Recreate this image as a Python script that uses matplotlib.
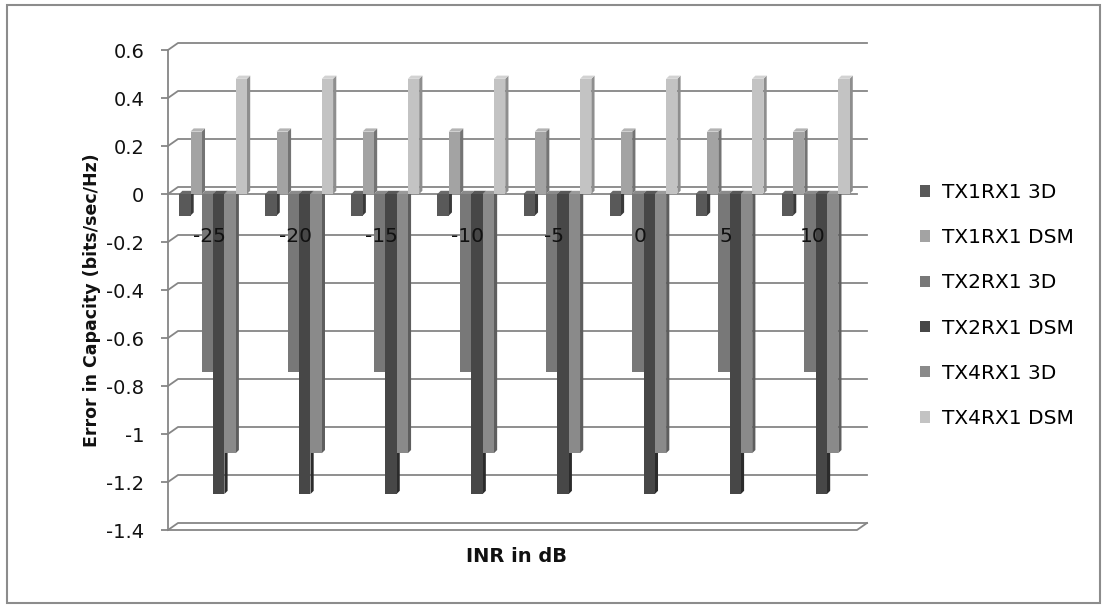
import matplotlib
matplotlib.use("Agg")
import matplotlib.pyplot as plt
from matplotlib.patches import Polygon, Rectangle, Patch
from matplotlib.lines import Line2D
import numpy as np

# ---- data ----
categories = ["-25", "-20", "-15", "-10", "-5", "0", "5", "10"]
series_names = ["TX1RX1 3D", "TX1RX1 DSM", "TX2RX1 3D", "TX2RX1 DSM", "TX4RX1 3D", "TX4RX1 DSM"]
tx1rx1_3d = [-0.09, -0.09, -0.09, -0.09, -0.09, -0.09, -0.09, -0.09]
tx1rx1_dsm = [0.26, 0.26, 0.26, 0.26, 0.26, 0.26, 0.26, 0.26]
tx2rx1_3d = [-0.74, -0.74, -0.74, -0.74, -0.74, -0.74, -0.74, -0.74]
tx2rx1_dsm = [-1.25, -1.25, -1.25, -1.25, -1.25, -1.25, -1.25, -1.25]
tx4rx1_3d = [-1.08, -1.08, -1.08, -1.08, -1.08, -1.08, -1.08, -1.08]
tx4rx1_dsm = [0.48, 0.48, 0.48, 0.48, 0.48, 0.48, 0.48, 0.48]
series_values = [tx1rx1_3d, tx1rx1_dsm, tx2rx1_3d, tx2rx1_dsm, tx4rx1_3d, tx4rx1_dsm]
y_ticks = [-1.4, -1.2, -1.0, -0.8, -0.6, -0.4, -0.2, 0.0, 0.2, 0.4, 0.6]

front_colors = ["#595959", "#a3a3a3", "#787878", "#474747", "#8a8a8a", "#c3c3c3"]
side_colors = ["#3a3a3a", "#747474", "#555555", "#2b2b2b", "#5e5e5e", "#8e8e8e"]
top_colors = ["#6a6a6a", "#b4b4b4", "#8a8a8a", "#585858", "#9a9a9a", "#d2d2d2"]

W, H = 1102, 605
fig = plt.figure(figsize=(W / 100, H / 100), dpi=100)
fig.patch.set_facecolor("white")

# outer border
fig.add_artist(Rectangle((7 / W, 1 - 603 / H), (1100 - 7) / W, (603 - 5) / H,
                         transform=fig.transFigure, fill=False, edgecolor="#8c8c8c", lw=1.5))

ax_l, ax_r, ax_t, ax_b = 168, 857, 50, 530
ax = fig.add_axes([ax_l / W, 1 - ax_b / H, (ax_r - ax_l) / W, (ax_b - ax_t) / H])
ax.set_facecolor("none")

n = len(categories)
xmin, xmax = -0.534, n - 0.53
ymin, ymax = y_ticks[0], y_ticks[-1]
ax.set_xlim(xmin, xmax)
ax.set_ylim(ymin, ymax)

px_x = (ax_r - ax_l) / (xmax - xmin)
px_y = (ax_b - ax_t) / (ymax - ymin)

grid_c = "#868686"
# wall depth offsets
dxw, dyw = 10 / px_x, 7 / px_y
for v in y_ticks:
    ax.add_line(Line2D([xmin, xmin + dxw, xmax + dxw], [v, v + dyw, v + dyw],
                       color=grid_c, lw=1.3, zorder=1, clip_on=False))
# floor front + right side
ax.add_line(Line2D([xmin, xmax, xmax + dxw], [ymin, ymin, ymin + dyw],
                   color=grid_c, lw=1.3, zorder=1, clip_on=False))
# category axis (front, at zero)
ax.add_line(Line2D([xmin, xmax], [0, 0], color=grid_c, lw=1.3, zorder=1.5, clip_on=False))

# bars with 3D look
ns = len(series_values)
bw = 11.3 / px_x
dxb, dyb = 3.2 / px_x, 3.2 / px_y
x = np.arange(n)
for s, vals in enumerate(series_values):
    for j, v in enumerate(vals):
        x0 = x[j] - 3 * bw - 0.01 + s * bw
        x1 = x0 + bw
        z = 2 + s * 0.1
        side = Polygon([(x1, 0), (x1 + dxb, dyb), (x1 + dxb, v + dyb), (x1, v)],
                       closed=True, facecolor=side_colors[s], edgecolor="none", zorder=z)
        ax.add_patch(side)
        top_y = max(v, 0)
        top = Polygon([(x0, top_y), (x0 + dxb, top_y + dyb), (x1 + dxb, top_y + dyb), (x1, top_y)],
                      closed=True, facecolor=top_colors[s], edgecolor="none", zorder=z)
        ax.add_patch(top)
    ax.bar(x - 3 * bw - 0.01 + s * bw, vals, width=bw, align="edge",
           color=front_colors[s], edgecolor="none", zorder=2 + s * 0.1 + 0.05)

# category labels inside plot
for j, c in enumerate(categories):
    ax.text(x[j] - 0.05, -0.179, c, ha="center", va="center", fontsize=14.5,
            color="#111111", zorder=10)

# axes styling
for sp in ["top", "right", "bottom"]:
    ax.spines[sp].set_visible(False)
ax.spines["left"].set_color(grid_c)
ax.spines["left"].set_linewidth(1.3)
ax.set_xticks([])
ax.set_yticks(y_ticks)
ax.set_yticklabels([f"{round(v, 1):g}" for v in y_ticks])
ax.tick_params(axis="y", direction="out", length=5, width=1.3, color=grid_c,
               labelsize=14, labelcolor="#111111", pad=12)

fig.text(92 / W, 1 - 300 / H, "Error in Capacity (bits/sec/Hz)", rotation=90,
         ha="center", va="center", fontsize=12.5, fontweight="bold", color="#111111")
fig.text(516 / W, 1 - 556 / H, "INR in dB", ha="center", va="center",
         fontsize=14, fontweight="bold", color="#111111")

handles = [Patch(facecolor=front_colors[s], edgecolor="none") for s in range(ns)]
fig.legend(handles, series_names, loc="center left", bbox_to_anchor=(920 / W, 1 - 305.5 / H),
           frameon=False, fontsize=14.5, handlelength=0.5, handleheight=0.5,
           handletextpad=0.6, labelspacing=1.3, borderpad=0, borderaxespad=0)

fig.savefig("out.png", dpi=100)
